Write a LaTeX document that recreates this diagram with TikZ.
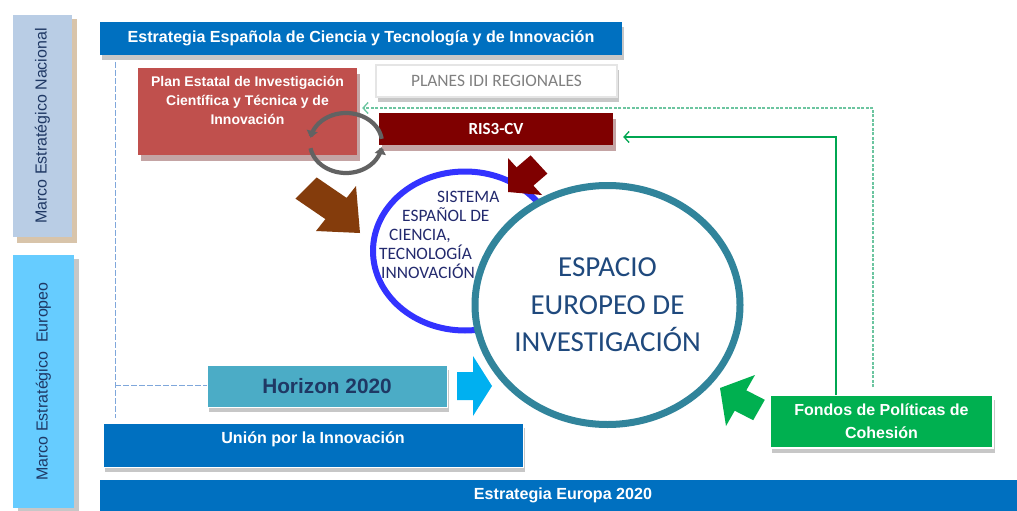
\documentclass[tikz,border=0pt]{standalone}
\usepackage{fontspec}
\setmainfont{Liberation Sans}
\newfontfamily\calibri{Carlito}
\usetikzlibrary{arrows.meta,shadows,calc,shapes.geometric}
\definecolor{bluebox}{HTML}{0070C0}
\definecolor{nacional}{HTML}{B9CDE5}
\definecolor{europeo}{HTML}{66CCFF}
\definecolor{redbox}{HTML}{C0504D}
\definecolor{risred}{HTML}{7F0000}
\definecolor{horizonc}{HTML}{4BACC6}
\definecolor{fondosc}{HTML}{00B050}
\definecolor{tealc}{HTML}{31849B}
\definecolor{sysblue}{HTML}{3333FF}
\definecolor{navy}{HTML}{1F3864}
\definecolor{brownarrow}{HTML}{843C0C}
\definecolor{cyanarrow}{HTML}{00B0F0}
\definecolor{dashblue}{HTML}{7FA7DB}
\definecolor{espacioc}{HTML}{1F497D}
\definecolor{sistemac}{HTML}{232A6E}
\definecolor{greensolid}{HTML}{00A651}
\definecolor{greendash}{HTML}{6CC5A0}
\definecolor{pinkshadow}{HTML}{C4A4A4}
\definecolor{beigeshadow}{HTML}{D8C4AA}
\definecolor{greyarrow}{HTML}{626262}
\begin{document}
\begin{tikzpicture}[x=1pt,y=-1pt,
  box/.style={rectangle,inner sep=0pt,align=center},
  shad/.style={drop shadow={shadow xshift=2pt,shadow yshift=-5pt,fill=black!22,opacity=1}},
  pinkshad/.style={drop shadow={shadow xshift=3pt,shadow yshift=-6pt,fill=pinkshadow,opacity=1}},
  bluebar/.style={box,fill=bluebox,text=white,font=\bfseries\fontsize{16.1}{19}\selectfont},
  marco/.style={box,rotate=90,text=navy,font=\fontsize{16}{19}\selectfont},
  guide/.style={dashblue,dash pattern=on 6pt off 2pt,line width=0.9pt},
  cohesion/.style={greensolid,line width=1.3pt,-{Straight Barb[length=5pt,width=11pt]}},
  cohesiondash/.style={greendash,dash pattern=on 3pt off 1.5pt,line width=1.3pt,-{Straight Barb[length=5pt,width=11pt]}},
  cyclearrow/.style={greyarrow,line width=4.2pt,-{Triangle[length=7pt,width=11pt]}}]
\useasboundingbox (0,0) rectangle (1017,511);
\fill[white] (0,0) rectangle (1017,511);

% side bars
\fill[beigeshadow] (17,19) rectangle (77,243);
\node[marco,fill=nacional,minimum width=222pt,minimum height=59pt] (nac) at (42.5,126) {Marco Estratégico Nacional};
\fill[black!22] (18,259) rectangle (79,515);
\node[marco,fill=europeo,minimum width=253pt,minimum height=61pt] (eur) at (43.5,381.5) {Marco Estratégico\ \ Europeo};

% guide lines
\coordinate (vt) at (115,62);
\coordinate (vb) at (115,418);
\coordinate (vh) at (115,385);
\draw[guide] (vt) -- (vb);

% boxes
\node[bluebar,shad,minimum width=522pt,minimum height=33pt] (estesp) at (361,38.5) {Estrategia Española de Ciencia y Tecnología y de Innovación};
\node[box,fill=redbox,pinkshad,minimum width=219pt,minimum height=87pt] (plan) at (247.5,111.5) {};
\node[align=center,inner sep=0pt,text=white,font=\bfseries\fontsize{14}{19}\selectfont] (plantxt) at ([yshift=11.5pt]plan.center) {Plan Estatal de Investigación\\Científica y Técnica y de\\Innovación};
\node[box,fill=white,draw=black!10,line width=1.5pt,shad,minimum width=241pt,minimum height=32pt,text=black!50,font=\calibri\fontsize{17.4}{19}\selectfont] (planes) at (496.5,81) {PLANES IDI REGIONALES};
\node[box,fill=risred,pinkshad,minimum width=234pt,minimum height=32pt,text=white,font=\calibri\bfseries\fontsize{17}{19}\selectfont] (ris3) at (496,129) {RIS3-CV};
\node[box,fill=horizonc,draw=white,line width=1pt,shad,minimum width=240pt,minimum height=42pt,text=navy,font=\bfseries\fontsize{20.8}{24}\selectfont] (horizon) at (327,386) {Horizon 2020};
\draw[guide] (vh) -- (vh -| horizon.west);
\node[box,fill=bluebox,draw=white,line width=1pt,shad,minimum width=420pt,minimum height=44pt] (union) at (313,445) {};
\node[inner sep=0pt,text=white,font=\bfseries\fontsize{16.1}{19}\selectfont] (uniontxt) at ([yshift=6pt]union.center) {Unión por la Innovación};
\node[bluebar,minimum width=926pt,minimum height=31pt] (europa) at (563,495.5) {Estrategia Europa 2020};
\node[box,fill=fondosc,draw=white,line width=1.5pt,shad,minimum width=223pt,minimum height=53pt,text=white,font=\bfseries\fontsize{16}{23}\selectfont] (fondos) at (881.5,421.5) {Fondos de Políticas de\\Cohesión};

% connectors from Fondos
\coordinate (gs) at (836,395);
\coordinate (gd) at (873,387);
\draw[cohesion] (gs) |- ([xshift=10pt,yshift=-8pt]ris3.east);
\draw[cohesiondash] (gd) |- ([xshift=5pt,yshift=3.5pt]plan.east);

% circles
\node[ellipse,draw=sysblue,line width=6pt,minimum width=184pt,minimum height=159pt,inner sep=0pt] (sece) at (465,251) {};
\node[ellipse,draw=tealc,fill=white,line width=7pt,minimum width=265pt,minimum height=239pt,inner sep=0pt,align=center,text=espacioc,font=\calibri\fontsize{29}{37.5}\selectfont] (eei) at (607.5,305) {ESPACIO\\EUROPEO DE\\INVESTIGACIÓN};
\node[anchor=west,align=left,inner sep=0pt,text=sistemac,font=\calibri\fontsize{17.4}{19}\selectfont] (secetxt) at (379,235) {\hspace*{58pt}SISTEMA\\\hspace*{23pt}ESPAÑOL DE\\\hspace*{10pt}CIENCIA,\\TECNOLOGÍA\\\hspace*{2pt}INNOVACIÓN};

% cycle arrows
\draw[cyclearrow] plot[domain=8:170,samples=40,smooth,variable=\t] ({346+36*cos(\t)},{143-30*sin(\t)});
\draw[cyclearrow] plot[domain=190:352,samples=40,smooth,variable=\t] ({346+36*cos(\t)},{143-30*sin(\t)});

% block arrows
\fill[brownarrow] (295.4,198.6) -- (316.6,177.4) -- (346.6,197.9) -- (356,186) -- (360,233) -- (316,231) -- (325.4,219.1) -- cycle;
\fill[risred] (508,192) -- (508,158) -- (516.6,167.4) -- (530.6,155.4) -- (547.4,173.6) -- (533.4,185.6) -- (542,195) -- cycle;
\fill[cyanarrow] (457,372) -- (473,372) -- (473,356) -- (492,386) -- (473,416) -- (473,400) -- (457,400) -- cycle;
\fill[fondosc] (720,388) -- (755,375) -- (746.3,390.3) -- (764.8,399.8) -- (753.2,420.2) -- (734.7,410.7) -- (726,426) -- cycle;
\end{tikzpicture}
\end{document}
